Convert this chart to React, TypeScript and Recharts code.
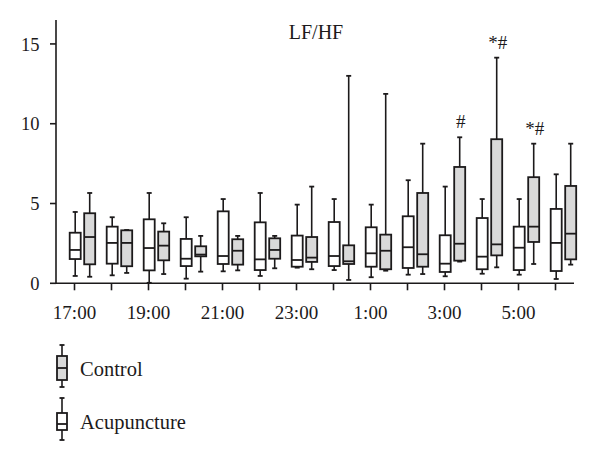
import { Bar, ComposedChart, XAxis, YAxis } from "recharts";

// LF/HF per hour, two groups. Each entry: [min, q1, median, q3, max]
const hours = [
  "17:00", "18:00", "19:00", "20:00", "21:00", "22:00", "23:00",
  "0:00", "1:00", "2:00", "3:00", "4:00", "5:00", "6:00",
];
const tickLabels = hours.map((h, i) => (i % 2 === 0 ? h : ""));
const yTicks = [0, 5, 10, 15];

const acupuncture = [
  [0.46, 1.52, 2.09, 3.17, 4.47],
  [0.5, 1.23, 2.53, 3.55, 4.14],
  [0.03, 0.81, 2.21, 4.01, 5.66],
  [0.29, 1.08, 1.54, 2.78, 4.14],
  [0.75, 1.21, 1.71, 4.51, 5.28],
  [0.46, 0.83, 1.5, 3.82, 5.66],
  [0.98, 1.04, 1.46, 2.99, 4.93],
  [0.83, 1.08, 1.71, 3.84, 5.28],
  [0.38, 1.04, 1.88, 3.51, 4.93],
  [0.54, 0.96, 2.26, 4.2, 6.46],
  [0.44, 0.71, 1.23, 3.01, 6.06],
  [0.6, 0.88, 1.67, 4.09, 5.28],
  [0.54, 0.83, 2.23, 3.55, 5.28],
  [0.27, 0.77, 2.53, 4.66, 6.83],
];

const control = [
  [0.41, 1.19, 2.9, 4.39, 5.66],
  [0.65, 1.07, 2.53, 3.32, 3.34],
  [0.58, 1.44, 2.36, 3.24, 3.76],
  [0.73, 1.69, 1.8, 2.32, 2.97],
  [0.81, 1.17, 2.04, 2.76, 2.97],
  [0.94, 1.54, 2.09, 2.82, 2.97],
  [0.88, 1.34, 1.61, 2.9, 6.06],
  [0.21, 1.21, 1.38, 2.38, 13.0],
  [0.79, 0.88, 2.04, 3.05, 11.87],
  [0.58, 1.04, 1.82, 5.66, 8.75],
  [1.36, 1.42, 2.48, 7.29, 9.15],
  [1.0, 1.75, 2.44, 9.03, 14.14],
  [1.21, 2.59, 3.55, 6.65, 8.75],
  [1.17, 1.5, 3.11, 6.1, 8.75],
];

// significance marks drawn over the control boxes
const controlMarks = ["", "", "", "", "", "", "", "", "", "", "#", "*#", "*#", ""];

const rows = hours.map((hour, i) => ({
  hour,
  acu: acupuncture[i],
  ctl: control[i],
  sig: controlMarks[i],
}));

const INK = "#1c1a1b";
const GREY = "#d9d9d9";
const FONT = "'Liberation Serif', 'DejaVu Serif', serif";
const SHIFT = 7.7; // boxes sit right of the band centre, first box on the tick

function BoxShape(props: any) {
  const { x, y, width, height, stats, fill, label } = props;
  if (!stats || x == null) return null;
  const [mn, q1, md, q3, mx] = stats;
  const top = Math.min(y, y + height);
  const bot = Math.max(y, y + height);
  const py = (v: number) => top + ((bot - top) * (mx - v)) / (mx - mn);
  const left = x + SHIFT;
  const cx = left + width / 2;
  return (
    <g>
      <line x1={cx} x2={cx} y1={py(mx)} y2={py(mn)} stroke={INK} strokeWidth={1.6} />
      <line x1={cx - 2.5} x2={cx + 2.5} y1={py(mx)} y2={py(mx)} stroke={INK} strokeWidth={1.8} />
      <line x1={cx - 2.5} x2={cx + 2.5} y1={py(mn)} y2={py(mn)} stroke={INK} strokeWidth={1.8} />
      <rect
        x={left}
        y={py(q3)}
        width={width}
        height={py(q1) - py(q3)}
        fill={fill}
        stroke={INK}
        strokeWidth={1.8}
      />
      <line x1={left} x2={left + width} y1={py(md)} y2={py(md)} stroke={INK} strokeWidth={1.8} />
      {label ? (
        <text
          x={cx + 1}
          y={py(mx) - 9}
          textAnchor="middle"
          fontFamily={FONT}
          fontSize={19}
          fill={INK}
        >
          {label}
        </text>
      ) : null}
    </g>
  );
}

function LegendIcon({ fill }: { fill: string }) {
  const grey = fill === GREY;
  return (
    <svg width={14} height={46} style={{ display: "block" }}>
      <line x1={7} x2={7} y1={2} y2={44} stroke={INK} strokeWidth={1.6} />
      <line x1={4.5} x2={9.5} y1={2} y2={2} stroke={INK} strokeWidth={1.8} />
      <line x1={4.5} x2={9.5} y1={44} y2={44} stroke={INK} strokeWidth={1.8} />
      <rect x={2} y={grey ? 13 : 17} width={10} height={grey ? 24 : 17} fill={fill} stroke={INK} strokeWidth={1.8} />
      <line x1={2} x2={12} y1={grey ? 25 : 28} y2={grey ? 25 : 28} stroke={INK} strokeWidth={1.8} />
    </svg>
  );
}

export default function App() {
  return (
    <div
      style={{
        position: "absolute",
        left: 0,
        top: 0,
        width: 600,
        height: 463,
        background: "#fff",
        fontFamily: FONT,
      }}
    >
      <ComposedChart
        width={600}
        height={463}
        data={rows}
        margin={{ top: 20, right: 26, left: 0, bottom: 149.7 }}
        barSize={11}
        barGap={3.5}
      >
        <XAxis
          dataKey="hour"
          interval={0}
          tickFormatter={(_v: string, i: number) => tickLabels[i]}
          stroke={INK}
          strokeWidth={1.6}
          tickSize={7}
          tickMargin={15}
          height={30}
          tick={{ fill: INK, fontSize: 19, fontFamily: FONT }}
        />
        <YAxis
          domain={[0, 16.5]}
          ticks={yTicks}
          width={56}
          stroke={INK}
          strokeWidth={1.6}
          tickSize={6}
          tickMargin={10.5}
          tick={{ fill: INK, fontSize: 18.5, fontFamily: FONT }}
        />
        <Bar
          dataKey={(d: any) => [d.acu[0], d.acu[4]]}
          isAnimationActive={false}
          shape={(p: any) => <BoxShape {...p} stats={p.payload.acu} fill="#ffffff" label="" />}
        />
        <Bar
          dataKey={(d: any) => [d.ctl[0], d.ctl[4]]}
          isAnimationActive={false}
          shape={(p: any) => (
            <BoxShape {...p} stats={p.payload.ctl} fill={GREY} label={p.payload.sig} />
          )}
        />
      </ComposedChart>
      <div
        style={{
          position: "absolute",
          left: 256,
          top: 22,
          width: 120,
          textAlign: "center",
          fontSize: 20,
          color: INK,
          lineHeight: "20px",
        }}
      >
        LF/HF
      </div>
      <div style={{ position: "absolute", left: 55, top: 343, color: INK, fontSize: 20.5 }}>
        <div style={{ display: "flex", alignItems: "center", height: 46 }}>
          <LegendIcon fill={GREY} />
          <span style={{ marginLeft: 11, position: "relative", top: 3 }}>Control</span>
        </div>
        <div style={{ display: "flex", alignItems: "center", height: 46, marginTop: 7 }}>
          <LegendIcon fill="#ffffff" />
          <span style={{ marginLeft: 11, position: "relative", top: 3 }}>Acupuncture</span>
        </div>
      </div>
    </div>
  );
}
